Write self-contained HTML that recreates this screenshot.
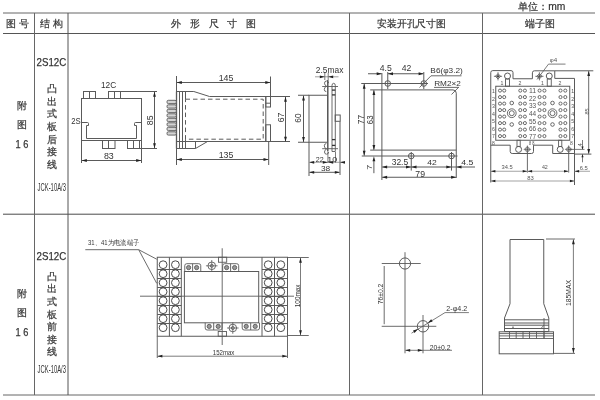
<!DOCTYPE html>
<html><head><meta charset="utf-8"><style>
html,body{margin:0;padding:0;background:#fff;width:600px;height:400px;overflow:hidden}
svg{display:block;font-family:"Liberation Sans",sans-serif;will-change:transform;filter:blur(0.3px)}
</style></head><body>
<svg width="600" height="400" viewBox="0 0 600 400">
<line x1="3" y1="13" x2="595" y2="13" stroke="#666" stroke-width="1"/>
<line x1="3" y1="33.5" x2="595" y2="33.5" stroke="#555" stroke-width="1"/>
<line x1="3" y1="214.2" x2="595" y2="214.2" stroke="#4a4a4a" stroke-width="1"/>
<line x1="3" y1="395" x2="595" y2="395" stroke="#666" stroke-width="1"/>
<line x1="34.5" y1="13" x2="34.5" y2="395" stroke="#666" stroke-width="1"/>
<line x1="68" y1="13" x2="68" y2="395" stroke="#555" stroke-width="1"/>
<line x1="349.5" y1="13" x2="349.5" y2="395" stroke="#666" stroke-width="1"/>
<line x1="482.5" y1="13" x2="482.5" y2="395" stroke="#666" stroke-width="1"/>
<text x="5.9" y="27" font-size="9.9" text-anchor="start" fill="#333"  stroke="#333" stroke-width="0.2">图</text>
<text x="18.6" y="27" font-size="9.9" text-anchor="start" fill="#333"  stroke="#333" stroke-width="0.2">号</text>
<text x="39.5" y="27" font-size="10.1" text-anchor="start" fill="#333"  stroke="#333" stroke-width="0.2">结</text>
<text x="52.6" y="27" font-size="10.1" text-anchor="start" fill="#333"  stroke="#333" stroke-width="0.2">构</text>
<text x="171.1" y="27" font-size="10.2" text-anchor="start" fill="#333"  stroke="#333" stroke-width="0.2">外</text>
<text x="189.85" y="27" font-size="10.2" text-anchor="start" fill="#333"  stroke="#333" stroke-width="0.2">形</text>
<text x="208.6" y="27" font-size="10.2" text-anchor="start" fill="#333"  stroke="#333" stroke-width="0.2">尺</text>
<text x="227.35" y="27" font-size="10.2" text-anchor="start" fill="#333"  stroke="#333" stroke-width="0.2">寸</text>
<text x="246.1" y="27" font-size="10.2" text-anchor="start" fill="#333"  stroke="#333" stroke-width="0.2">图</text>
<text x="377" y="27" font-size="9.8" text-anchor="start" fill="#333" textLength="69" lengthAdjust="spacingAndGlyphs"  stroke="#333" stroke-width="0.2">安装开孔尺寸图</text>
<text x="524.5" y="27" font-size="10" text-anchor="start" fill="#333" textLength="30" lengthAdjust="spacingAndGlyphs"  stroke="#333" stroke-width="0.2">端子图</text>
<text x="517.8" y="9.9" font-size="10.2" text-anchor="start" fill="#333" textLength="47.5" lengthAdjust="spacingAndGlyphs"  stroke="#333" stroke-width="0.2">单位：mm</text>
<text x="16.5" y="109" font-size="10" text-anchor="start" fill="#333"  stroke="#333" stroke-width="0.2">附</text>
<text x="16.5" y="127.8" font-size="10" text-anchor="start" fill="#333"  stroke="#333" stroke-width="0.2">图</text>
<text x="15.5" y="148" font-size="10.5" text-anchor="start" fill="#333" textLength="12.8" lengthAdjust="spacingAndGlyphs"  stroke="#333" stroke-width="0.25">1&#160;6</text>
<text x="16.5" y="297" font-size="10" text-anchor="start" fill="#333"  stroke="#333" stroke-width="0.2">附</text>
<text x="16.5" y="315.8" font-size="10" text-anchor="start" fill="#333"  stroke="#333" stroke-width="0.2">图</text>
<text x="15.5" y="335.5" font-size="10.5" text-anchor="start" fill="#333" textLength="12.8" lengthAdjust="spacingAndGlyphs"  stroke="#333" stroke-width="0.25">1&#160;6</text>
<text x="36.53" y="66.20" font-size="11.43" fill="#333" textLength="29.72" lengthAdjust="spacingAndGlyphs"  stroke="#333" stroke-width="0.25">2S12C</text>
<text x="46.7" y="91.9" font-size="9.6" text-anchor="start" fill="#333"  stroke="#333" stroke-width="0.2">凸</text>
<text x="46.7" y="104.57000000000001" font-size="9.6" text-anchor="start" fill="#333"  stroke="#333" stroke-width="0.2">出</text>
<text x="46.7" y="117.24000000000001" font-size="9.6" text-anchor="start" fill="#333"  stroke="#333" stroke-width="0.2">式</text>
<text x="46.7" y="129.91" font-size="9.6" text-anchor="start" fill="#333"  stroke="#333" stroke-width="0.2">板</text>
<text x="46.7" y="142.58" font-size="9.6" text-anchor="start" fill="#333"  stroke="#333" stroke-width="0.2">后</text>
<text x="46.7" y="155.25" font-size="9.6" text-anchor="start" fill="#333"  stroke="#333" stroke-width="0.2">接</text>
<text x="46.7" y="167.92000000000002" font-size="9.6" text-anchor="start" fill="#333"  stroke="#333" stroke-width="0.2">线</text>
<text x="37.59" y="190.70" font-size="10.41" fill="#333" textLength="28.38" lengthAdjust="spacingAndGlyphs" >JCK-10A/3</text>
<text x="36.53" y="260.20" font-size="11.43" fill="#333" textLength="29.72" lengthAdjust="spacingAndGlyphs"  stroke="#333" stroke-width="0.25">2S12C</text>
<text x="46.7" y="279.9" font-size="9.6" text-anchor="start" fill="#333"  stroke="#333" stroke-width="0.2">凸</text>
<text x="46.7" y="292.45" font-size="9.6" text-anchor="start" fill="#333"  stroke="#333" stroke-width="0.2">出</text>
<text x="46.7" y="305.0" font-size="9.6" text-anchor="start" fill="#333"  stroke="#333" stroke-width="0.2">式</text>
<text x="46.7" y="317.54999999999995" font-size="9.6" text-anchor="start" fill="#333"  stroke="#333" stroke-width="0.2">板</text>
<text x="46.7" y="330.09999999999997" font-size="9.6" text-anchor="start" fill="#333"  stroke="#333" stroke-width="0.2">前</text>
<text x="46.7" y="342.65" font-size="9.6" text-anchor="start" fill="#333"  stroke="#333" stroke-width="0.2">接</text>
<text x="46.7" y="355.2" font-size="9.6" text-anchor="start" fill="#333"  stroke="#333" stroke-width="0.2">线</text>
<text x="37.59" y="372.50" font-size="10.68" fill="#333" textLength="28.40" lengthAdjust="spacingAndGlyphs" >JCK-10A/3</text>
<rect x="81.5" y="98.5" width="60" height="42" rx="0" stroke="#5a5a5a" stroke-width="1" fill="none"/>
<rect x="83.5" y="91.5" width="12" height="7" rx="0" stroke="#5a5a5a" stroke-width="1" fill="none"/>
<line x1="89.5" y1="91.5" x2="89.5" y2="98.5" stroke="#5a5a5a" stroke-width="1"/>
<rect x="108.5" y="91.5" width="12" height="7" rx="0" stroke="#5a5a5a" stroke-width="1" fill="none"/>
<line x1="114.5" y1="91.5" x2="114.5" y2="98.5" stroke="#5a5a5a" stroke-width="1"/>
<rect x="102.5" y="140.5" width="12.5" height="8" rx="0" stroke="#5a5a5a" stroke-width="1" fill="none"/>
<line x1="108.5" y1="140.5" x2="108.5" y2="148.5" stroke="#5a5a5a" stroke-width="1"/>
<rect x="127.5" y="140.5" width="12" height="8" rx="0" stroke="#5a5a5a" stroke-width="1" fill="none"/>
<line x1="133.5" y1="140.5" x2="133.5" y2="148.5" stroke="#5a5a5a" stroke-width="1"/>
<path d="M81.5,122.5 H87.5 Q88.5,122.5 88.5,123.5 V125.5 H86.5 V138.5 H136.5 V125.5 H134.5 V123.5 Q134.5,122.5 135.5,122.5 H141.5" stroke="#5a5a5a" stroke-width="1" fill="none" />
<text x="100.90" y="88.00" font-size="8.71" fill="#333" textLength="15.29" lengthAdjust="spacingAndGlyphs" >12C</text>
<text x="71.14" y="124.40" font-size="9.29" fill="#333" textLength="9.47" lengthAdjust="spacingAndGlyphs" >2S</text>
<line x1="121" y1="91.5" x2="157" y2="91.5" stroke="#5a5a5a" stroke-width="1"/>
<line x1="140" y1="148.5" x2="157" y2="148.5" stroke="#5a5a5a" stroke-width="1"/>
<line x1="154.5" y1="92" x2="154.5" y2="148" stroke="#5a5a5a" stroke-width="1"/>
<polygon points="154.50,91.80 153.10,96.80 155.90,96.80" fill="#222"/>
<polygon points="154.50,148.20 153.10,143.20 155.90,143.20" fill="#222"/>
<text x="152.90" y="125.18" font-size="9.43" fill="#333" textLength="9.78" lengthAdjust="spacingAndGlyphs" transform="rotate(-90 152.90 125.18)" >85</text>
<line x1="81.5" y1="141" x2="81.5" y2="163" stroke="#5a5a5a" stroke-width="1"/>
<line x1="141.5" y1="141" x2="141.5" y2="163" stroke="#5a5a5a" stroke-width="1"/>
<line x1="82" y1="160.5" x2="141" y2="160.5" stroke="#5a5a5a" stroke-width="1"/>
<polygon points="81.80,160.50 86.80,159.10 86.80,161.90" fill="#222"/>
<polygon points="141.20,160.50 136.20,159.10 136.20,161.90" fill="#222"/>
<text x="103.94" y="159.30" font-size="9.00" fill="#333" textLength="9.84" lengthAdjust="spacingAndGlyphs" >83</text>
<line x1="176.5" y1="76" x2="176.5" y2="165" stroke="#5a5a5a" stroke-width="1"/>
<line x1="177" y1="82.5" x2="270" y2="82.5" stroke="#5a5a5a" stroke-width="1"/>
<polygon points="176.80,82.50 181.80,81.10 181.80,83.90" fill="#222"/>
<polygon points="270.30,82.50 265.30,81.10 265.30,83.90" fill="#222"/>
<text x="218.70" y="81.30" font-size="8.71" fill="#333" textLength="14.73" lengthAdjust="spacingAndGlyphs" >145</text>
<line x1="270.5" y1="76.5" x2="270.5" y2="96.5" stroke="#5a5a5a" stroke-width="1"/>
<path d="M176.5,91.5 H193.8 L209.5,96.5 H290" stroke="#5a5a5a" stroke-width="1" fill="none" />
<line x1="179.5" y1="91.5" x2="179.5" y2="148.5" stroke="#5a5a5a" stroke-width="1"/>
<line x1="182.5" y1="91.5" x2="182.5" y2="148.5" stroke="#5a5a5a" stroke-width="1"/>
<line x1="185.5" y1="91.5" x2="185.5" y2="99.2" stroke="#5a5a5a" stroke-width="1"/>
<line x1="185.5" y1="139.2" x2="185.5" y2="148.5" stroke="#5a5a5a" stroke-width="1"/>
<line x1="176.5" y1="91.5" x2="176.5" y2="148.5" stroke="#5a5a5a" stroke-width="1.3"/>
<path d="M176.5,141.5 H290" stroke="#5a5a5a" stroke-width="1" fill="none" />
<path d="M176.5,148.5 H195.5 L207.5,141.5" stroke="#5a5a5a" stroke-width="1" fill="none" />
<line x1="195.5" y1="141.5" x2="195.5" y2="148.5" stroke="#5a5a5a" stroke-width="1"/>
<rect x="167" y="100.3" width="9.3" height="3.3" rx="1.3" stroke="#5a5a5a" stroke-width="0.9" fill="#d4d4d4"/>
<rect x="167" y="104.8" width="9.3" height="3.3" rx="1.3" stroke="#5a5a5a" stroke-width="0.9" fill="#d4d4d4"/>
<rect x="167" y="109.3" width="9.3" height="3.3" rx="1.3" stroke="#5a5a5a" stroke-width="0.9" fill="#d4d4d4"/>
<rect x="167" y="113.8" width="9.3" height="3.3" rx="1.3" stroke="#5a5a5a" stroke-width="0.9" fill="#d4d4d4"/>
<rect x="167" y="118.3" width="9.3" height="3.3" rx="1.3" stroke="#5a5a5a" stroke-width="0.9" fill="#d4d4d4"/>
<rect x="167" y="122.8" width="9.3" height="3.3" rx="1.3" stroke="#5a5a5a" stroke-width="0.9" fill="#d4d4d4"/>
<rect x="167" y="127.3" width="9.3" height="3.3" rx="1.3" stroke="#5a5a5a" stroke-width="0.9" fill="#d4d4d4"/>
<rect x="167" y="131.8" width="9.3" height="3.3" rx="1.3" stroke="#5a5a5a" stroke-width="0.9" fill="#d4d4d4"/>
<rect x="185.5" y="99.2" width="77.7" height="40" fill="none" stroke="#5a5a5a" stroke-width="1" stroke-dasharray="4.5 3"/>
<line x1="265.8" y1="96.5" x2="265.8" y2="141.5" stroke="#5a5a5a" stroke-width="1"/>
<rect x="265.8" y="96.5" width="4.7" height="10.5" rx="0" stroke="#5a5a5a" stroke-width="1" fill="none"/>
<line x1="265.8" y1="103.2" x2="270.5" y2="103.2" stroke="#5a5a5a" stroke-width="1"/>
<rect x="265.8" y="124.8" width="4.7" height="16.7" rx="0" stroke="#5a5a5a" stroke-width="1" fill="none"/>
<line x1="268.7" y1="142" x2="268.7" y2="165" stroke="#5a5a5a" stroke-width="1"/>
<line x1="177" y1="159.5" x2="268.3" y2="159.5" stroke="#5a5a5a" stroke-width="1"/>
<polygon points="176.80,159.50 181.80,158.10 181.80,160.90" fill="#222"/>
<polygon points="268.50,159.50 263.50,158.10 263.50,160.90" fill="#222"/>
<text x="218.70" y="158.00" font-size="8.71" fill="#333" textLength="14.73" lengthAdjust="spacingAndGlyphs" >135</text>
<line x1="285.5" y1="97" x2="285.5" y2="141.5" stroke="#5a5a5a" stroke-width="1"/>
<polygon points="285.50,96.80 284.10,101.80 286.90,101.80" fill="#222"/>
<polygon points="285.50,141.70 284.10,136.70 286.90,136.70" fill="#222"/>
<text x="283.90" y="122.33" font-size="8.57" fill="#333" textLength="9.68" lengthAdjust="spacingAndGlyphs" transform="rotate(-90 283.90 122.33)" >67</text>
<rect x="309" y="95.25" width="18.5" height="47" rx="0" stroke="#5a5a5a" stroke-width="1" fill="none"/>
<line x1="309" y1="142.25" x2="309" y2="176" stroke="#5a5a5a" stroke-width="1"/>
<line x1="298" y1="95.25" x2="309" y2="95.25" stroke="#5a5a5a" stroke-width="1"/>
<line x1="298" y1="142.25" x2="309" y2="142.25" stroke="#5a5a5a" stroke-width="1"/>
<line x1="303.5" y1="95.6" x2="303.5" y2="142" stroke="#5a5a5a" stroke-width="1"/>
<polygon points="303.50,95.50 302.10,100.50 304.90,100.50" fill="#222"/>
<polygon points="303.50,142.00 302.10,137.00 304.90,137.00" fill="#222"/>
<text x="300.90" y="122.66" font-size="9.14" fill="#333" textLength="9.29" lengthAdjust="spacingAndGlyphs" transform="rotate(-90 300.90 122.66)" >60</text>
<line x1="327.8" y1="80" x2="327.8" y2="151.5" stroke="#5a5a5a" stroke-width="1.5"/>
<path d="M332,151.5 V85.5 Q332,83.3 333.7,83.3 Q335.3,83.3 335.3,85.5 V151.5 Z" stroke="#5a5a5a" stroke-width="0.9" fill="none" />
<line x1="332" y1="90.1" x2="335.3" y2="90.1" stroke="#333" stroke-width="1.3"/>
<line x1="332" y1="94.9" x2="335.3" y2="94.9" stroke="#333" stroke-width="1.3"/>
<line x1="332" y1="139.6" x2="335.3" y2="139.6" stroke="#333" stroke-width="1.3"/>
<line x1="332" y1="145.4" x2="335.3" y2="145.4" stroke="#333" stroke-width="1.3"/>
<path d="M326.5,81.0 q-2,0 -2,2.2 q0,2 2,3 q-2.2,1 -2.2,3.2 q0,2.2 2,2.2" stroke="#5a5a5a" stroke-width="0.9" fill="none" />
<path d="M326.6,81.0 q2,0 2,2.2" stroke="#5a5a5a" stroke-width="0.9" fill="none" />
<line x1="322.2" y1="86.5" x2="338" y2="86.5" stroke="#5a5a5a" stroke-width="0.9"/>
<path d="M326.5,154.2 q-2,0 -2,-2.2 q0,-2 2,-3 q-2.2,-1 -2.2,-3.2 q0,-2.2 2,-2.2" stroke="#5a5a5a" stroke-width="0.9" fill="none" />
<path d="M326.6,154.2 q2,0 2,-2.2" stroke="#5a5a5a" stroke-width="0.9" fill="none" />
<line x1="322.2" y1="148.7" x2="338" y2="148.7" stroke="#5a5a5a" stroke-width="0.9"/>
<line x1="327.9" y1="152" x2="327.9" y2="163" stroke="#5a5a5a" stroke-width="0.8"/>
<line x1="335.5" y1="152" x2="335.5" y2="163" stroke="#5a5a5a" stroke-width="0.8"/>
<rect x="335.2" y="115" width="5" height="6.3" rx="0" stroke="#5a5a5a" stroke-width="1" fill="none"/>
<line x1="340" y1="121.5" x2="340" y2="175" stroke="#5a5a5a" stroke-width="1"/>
<text x="315.85" y="72.80" font-size="9.00" fill="#333" textLength="27.53" lengthAdjust="spacingAndGlyphs" >2.5max</text>
<line x1="315" y1="76.8" x2="338.5" y2="76.8" stroke="#888" stroke-width="0.8"/>
<polygon points="324.80,76.80 319.80,75.40 319.80,78.20" fill="#222"/>
<polygon points="328.20,76.80 333.20,75.40 333.20,78.20" fill="#222"/>
<line x1="324.8" y1="73" x2="324.8" y2="80" stroke="#5a5a5a" stroke-width="0.8"/>
<line x1="328.2" y1="73" x2="328.2" y2="80" stroke="#5a5a5a" stroke-width="0.8"/>
<line x1="309.5" y1="162.3" x2="343" y2="162.3" stroke="#888" stroke-width="0.8"/>
<polygon points="309.20,162.30 314.20,160.90 314.20,163.70" fill="#222"/>
<polygon points="327.80,162.30 322.80,160.90 322.80,163.70" fill="#222"/>
<polygon points="328.20,162.30 333.20,160.90 333.20,163.70" fill="#222"/>
<polygon points="340.00,162.30 345.00,160.90 345.00,163.70" fill="#222"/>
<text x="315.73" y="161.60" font-size="7.43" fill="#333" textLength="7.96" lengthAdjust="spacingAndGlyphs" >22</text>
<text x="327.21" y="161.60" font-size="7.43" fill="#333" textLength="9.91" lengthAdjust="spacingAndGlyphs" >10</text>
<line x1="309.5" y1="172.3" x2="339.5" y2="172.3" stroke="#5a5a5a" stroke-width="1"/>
<polygon points="309.20,172.30 314.20,170.90 314.20,173.70" fill="#222"/>
<polygon points="339.80,172.30 334.80,170.90 334.80,173.70" fill="#222"/>
<text x="320.90" y="171.30" font-size="7.43" fill="#333" textLength="9.31" lengthAdjust="spacingAndGlyphs" >38</text>
<path d="M381.9,73 V180" stroke="#5a5a5a" stroke-width="1" fill="none" />
<path d="M370.2,89.9 H453 Q456.25,89.9 456.25,93.2 V178" stroke="#5a5a5a" stroke-width="1" fill="none" />
<path d="M370.2,150.1 H456.25" stroke="#5a5a5a" stroke-width="1" fill="none" />
<line x1="361.25" y1="83.5" x2="428" y2="83.5" stroke="#5a5a5a" stroke-width="1"/>
<line x1="361.75" y1="156" x2="457.5" y2="156" stroke="#5a5a5a" stroke-width="1"/>
<circle cx="387.75" cy="83.5" r="2.8" stroke="#5a5a5a" stroke-width="1" fill="none"/>
<line x1="387.75" y1="72" x2="387.75" y2="89" stroke="#5a5a5a" stroke-width="1"/>
<circle cx="423.8" cy="83.5" r="2.8" stroke="#5a5a5a" stroke-width="1" fill="none"/>
<line x1="423.8" y1="72" x2="423.8" y2="89" stroke="#5a5a5a" stroke-width="1"/>
<circle cx="411.25" cy="156" r="2.8" stroke="#5a5a5a" stroke-width="1" fill="none"/>
<line x1="411.25" y1="152" x2="411.25" y2="170.6" stroke="#5a5a5a" stroke-width="1"/>
<circle cx="451.5" cy="156" r="2.8" stroke="#5a5a5a" stroke-width="1" fill="none"/>
<line x1="451.5" y1="152" x2="451.5" y2="170.6" stroke="#5a5a5a" stroke-width="1"/>
<line x1="368" y1="73.75" x2="381.6" y2="73.75" stroke="#5a5a5a" stroke-width="1"/>
<polygon points="381.70,73.75 376.70,72.35 376.70,75.15" fill="#222"/>
<line x1="388" y1="73.75" x2="423.5" y2="73.75" stroke="#5a5a5a" stroke-width="1"/>
<polygon points="388.00,73.75 393.00,72.35 393.00,75.15" fill="#222"/>
<polygon points="423.60,73.75 418.60,72.35 418.60,75.15" fill="#222"/>
<text x="379.84" y="70.70" font-size="8.14" fill="#333" textLength="11.99" lengthAdjust="spacingAndGlyphs" >4.5</text>
<text x="401.84" y="70.70" font-size="8.14" fill="#333" textLength="9.59" lengthAdjust="spacingAndGlyphs" >42</text>
<line x1="364.2" y1="84" x2="364.2" y2="155.6" stroke="#5a5a5a" stroke-width="1"/>
<polygon points="364.20,83.70 362.80,88.70 365.60,88.70" fill="#222"/>
<polygon points="364.20,155.80 362.80,150.80 365.60,150.80" fill="#222"/>
<text x="363.85" y="124.18" font-size="8.57" fill="#333" textLength="9.13" lengthAdjust="spacingAndGlyphs" transform="rotate(-90 363.85 124.18)" >77</text>
<line x1="373.9" y1="90.3" x2="373.9" y2="149.7" stroke="#5a5a5a" stroke-width="1"/>
<polygon points="373.90,90.10 372.50,95.10 375.30,95.10" fill="#222"/>
<polygon points="373.90,149.90 372.50,144.90 375.30,144.90" fill="#222"/>
<text x="373.30" y="124.20" font-size="9.00" fill="#333" textLength="8.68" lengthAdjust="spacingAndGlyphs" transform="rotate(-90 373.30 124.20)" >63</text>
<line x1="373.9" y1="160" x2="373.9" y2="173.2" stroke="#5a5a5a" stroke-width="1"/>
<polygon points="373.90,156.30 372.50,161.30 375.30,161.30" fill="#222"/>
<text x="372.40" y="169.69" font-size="7.71" fill="#333" textLength="4.84" lengthAdjust="spacingAndGlyphs" transform="rotate(-90 372.40 169.69)" >7</text>
<line x1="382.2" y1="167" x2="475" y2="167" stroke="#5a5a5a" stroke-width="1"/>
<polygon points="382.10,167.00 387.10,165.60 387.10,168.40" fill="#222"/>
<polygon points="411.00,167.00 406.00,165.60 406.00,168.40" fill="#222"/>
<polygon points="411.50,167.00 416.50,165.60 416.50,168.40" fill="#222"/>
<polygon points="451.30,167.00 446.30,165.60 446.30,168.40" fill="#222"/>
<polygon points="456.50,167.00 461.50,165.60 461.50,168.40" fill="#222"/>
<text x="391.66" y="165.30" font-size="8.57" fill="#333" textLength="16.54" lengthAdjust="spacingAndGlyphs" >32.5</text>
<text x="427.16" y="164.90" font-size="7.14" fill="#333" textLength="9.47" lengthAdjust="spacingAndGlyphs" >42</text>
<text x="461.17" y="164.90" font-size="6.71" fill="#333" textLength="12.10" lengthAdjust="spacingAndGlyphs" >4.5</text>
<line x1="382.2" y1="177.25" x2="456" y2="177.25" stroke="#5a5a5a" stroke-width="1"/>
<polygon points="382.10,177.25 387.10,175.85 387.10,178.65" fill="#222"/>
<polygon points="456.10,177.25 451.10,175.85 451.10,178.65" fill="#222"/>
<text x="415.38" y="176.60" font-size="8.36" fill="#333" textLength="9.66" lengthAdjust="spacingAndGlyphs" >79</text>
<text x="430.39" y="72.90" font-size="7.57" fill="#333" textLength="32.44" lengthAdjust="spacingAndGlyphs" >B6(φ3.2)</text>
<line x1="431" y1="75.8" x2="461.5" y2="75.8" stroke="#5a5a5a" stroke-width="0.9"/>
<line x1="419.5" y1="87.5" x2="431" y2="75.8" stroke="#5a5a5a" stroke-width="0.9"/>
<text x="434.21" y="85.75" font-size="7.36" fill="#333" textLength="26.67" lengthAdjust="spacingAndGlyphs" >RM2×2</text>
<line x1="434" y1="87.4" x2="459" y2="87.4" stroke="#5a5a5a" stroke-width="0.9"/>
<line x1="451.5" y1="94.5" x2="458.5" y2="87.4" stroke="#5a5a5a" stroke-width="0.9"/>
<path d="M490.75,182.5 V72.6 Q490.75,70.6 492.75,70.6 H511 Q513,70.6 513,72.6 V78.75 H532.4 V72.8 Q532.4,70.8 534.4,70.8 H554.75 V78.4 H574.5 V185" stroke="#5a5a5a" stroke-width="1" fill="none" />
<path d="M490.75,145.2 H510.2 V151.5 Q510.2,153.5 512.2,153.5 H531.5 Q533.5,153.5 533.5,151.5 V145.2 H552.7 V153.5 H574.5" stroke="#5a5a5a" stroke-width="1" fill="none" />
<line x1="554.75" y1="70.8" x2="593.3" y2="70.8" stroke="#5a5a5a" stroke-width="1"/>
<rect x="495.75" y="86.25" width="74" height="54" rx="0" stroke="#5a5a5a" stroke-width="1" fill="none"/>
<rect x="505.5" y="79" width="4" height="7.25" rx="0" stroke="#5a5a5a" stroke-width="0.9" fill="none"/>
<circle cx="507.5" cy="76" r="3" stroke="#5a5a5a" stroke-width="1" fill="none"/>
<rect x="547.25" y="79" width="4" height="7.25" rx="0" stroke="#5a5a5a" stroke-width="0.9" fill="none"/>
<circle cx="549.25" cy="76" r="3" stroke="#5a5a5a" stroke-width="1" fill="none"/>
<path d="M495.4,76.3 L498,73.7 L500.6,76.3 L498,78.89999999999999 Z" stroke="#5a5a5a" stroke-width="0.9" fill="none" />
<line x1="493.9" y1="76.3" x2="502.1" y2="76.3" stroke="#5a5a5a" stroke-width="0.8"/>
<line x1="498" y1="72.2" x2="498" y2="80.39999999999999" stroke="#5a5a5a" stroke-width="0.8"/>
<circle cx="498" cy="76.3" r="1.1" stroke="#5a5a5a" stroke-width="0" fill="#444"/>
<path d="M536.8,76.3 L539.4,73.7 L542.0,76.3 L539.4,78.89999999999999 Z" stroke="#5a5a5a" stroke-width="0.9" fill="none" />
<line x1="535.3" y1="76.3" x2="543.5" y2="76.3" stroke="#5a5a5a" stroke-width="0.8"/>
<line x1="539.4" y1="72.2" x2="539.4" y2="80.39999999999999" stroke="#5a5a5a" stroke-width="0.8"/>
<circle cx="539.4" cy="76.3" r="1.1" stroke="#5a5a5a" stroke-width="0" fill="#444"/>
<rect x="517.0" y="140.25" width="3.2" height="6.2" rx="0" stroke="#5a5a5a" stroke-width="0.9" fill="none"/>
<circle cx="518.6" cy="149.4" r="3" stroke="#5a5a5a" stroke-width="1" fill="none"/>
<rect x="558.6" y="140.25" width="3.2" height="6.2" rx="0" stroke="#5a5a5a" stroke-width="0.9" fill="none"/>
<circle cx="560.2" cy="149.4" r="3" stroke="#5a5a5a" stroke-width="1" fill="none"/>
<path d="M524.1,149.4 L527.4,146.1 L530.6999999999999,149.4 L527.4,152.7 Z" stroke="#999" stroke-width="0.6" fill="none" />
<circle cx="527.4" cy="149.4" r="1.9" stroke="#5a5a5a" stroke-width="0.8" fill="none"/>
<circle cx="527.4" cy="149.4" r="0.6" stroke="#5a5a5a" stroke-width="0" fill="#333"/>
<line x1="523.9" y1="149.4" x2="530.9" y2="149.4" stroke="#5a5a5a" stroke-width="0.7"/>
<line x1="527.4" y1="145.6" x2="527.4" y2="172.6" stroke="#5a5a5a" stroke-width="0.9"/>
<path d="M565.4000000000001,149.4 L568.7,146.1 L572.0,149.4 L568.7,152.7 Z" stroke="#999" stroke-width="0.6" fill="none" />
<circle cx="568.7" cy="149.4" r="1.9" stroke="#5a5a5a" stroke-width="0.8" fill="none"/>
<circle cx="568.7" cy="149.4" r="0.6" stroke="#5a5a5a" stroke-width="0" fill="#333"/>
<line x1="565.2" y1="149.4" x2="572.2" y2="149.4" stroke="#5a5a5a" stroke-width="0.7"/>
<line x1="568.7" y1="145.6" x2="568.7" y2="172.6" stroke="#5a5a5a" stroke-width="0.9"/>
<line x1="568.7" y1="149.4" x2="584.5" y2="149.4" stroke="#5a5a5a" stroke-width="0.8"/>
<circle cx="500" cy="90.6" r="1.55" stroke="#5a5a5a" stroke-width="0.9" fill="none"/>
<circle cx="500" cy="97.1" r="1.55" stroke="#5a5a5a" stroke-width="0.9" fill="none"/>
<circle cx="500" cy="103.6" r="1.55" stroke="#5a5a5a" stroke-width="0.9" fill="none"/>
<circle cx="500" cy="110.1" r="1.55" stroke="#5a5a5a" stroke-width="0.9" fill="none"/>
<circle cx="500" cy="116.6" r="1.55" stroke="#5a5a5a" stroke-width="0.9" fill="none"/>
<circle cx="500" cy="123.1" r="1.55" stroke="#5a5a5a" stroke-width="0.9" fill="none"/>
<circle cx="500" cy="129.6" r="1.55" stroke="#5a5a5a" stroke-width="0.9" fill="none"/>
<circle cx="500" cy="136.1" r="1.55" stroke="#5a5a5a" stroke-width="0.9" fill="none"/>
<circle cx="504.2" cy="90.6" r="1.55" stroke="#5a5a5a" stroke-width="0.9" fill="none"/>
<circle cx="504.2" cy="97.1" r="1.55" stroke="#5a5a5a" stroke-width="0.9" fill="none"/>
<circle cx="504.2" cy="103.6" r="1.55" stroke="#5a5a5a" stroke-width="0.9" fill="none"/>
<circle cx="504.2" cy="110.1" r="1.55" stroke="#5a5a5a" stroke-width="0.9" fill="none"/>
<circle cx="504.2" cy="116.6" r="1.55" stroke="#5a5a5a" stroke-width="0.9" fill="none"/>
<circle cx="504.2" cy="123.1" r="1.55" stroke="#5a5a5a" stroke-width="0.9" fill="none"/>
<circle cx="504.2" cy="129.6" r="1.55" stroke="#5a5a5a" stroke-width="0.9" fill="none"/>
<circle cx="504.2" cy="136.1" r="1.55" stroke="#5a5a5a" stroke-width="0.9" fill="none"/>
<circle cx="520.3" cy="90.6" r="1.55" stroke="#5a5a5a" stroke-width="0.9" fill="none"/>
<circle cx="520.3" cy="97.1" r="1.55" stroke="#5a5a5a" stroke-width="0.9" fill="none"/>
<circle cx="520.3" cy="103.6" r="1.55" stroke="#5a5a5a" stroke-width="0.9" fill="none"/>
<circle cx="520.3" cy="110.1" r="1.55" stroke="#5a5a5a" stroke-width="0.9" fill="none"/>
<circle cx="520.3" cy="116.6" r="1.55" stroke="#5a5a5a" stroke-width="0.9" fill="none"/>
<circle cx="520.3" cy="123.1" r="1.55" stroke="#5a5a5a" stroke-width="0.9" fill="none"/>
<circle cx="520.3" cy="129.6" r="1.55" stroke="#5a5a5a" stroke-width="0.9" fill="none"/>
<circle cx="520.3" cy="136.1" r="1.55" stroke="#5a5a5a" stroke-width="0.9" fill="none"/>
<circle cx="524.9" cy="90.6" r="1.55" stroke="#5a5a5a" stroke-width="0.9" fill="none"/>
<circle cx="524.9" cy="97.1" r="1.55" stroke="#5a5a5a" stroke-width="0.9" fill="none"/>
<circle cx="524.9" cy="103.6" r="1.55" stroke="#5a5a5a" stroke-width="0.9" fill="none"/>
<circle cx="524.9" cy="110.1" r="1.55" stroke="#5a5a5a" stroke-width="0.9" fill="none"/>
<circle cx="524.9" cy="116.6" r="1.55" stroke="#5a5a5a" stroke-width="0.9" fill="none"/>
<circle cx="524.9" cy="123.1" r="1.55" stroke="#5a5a5a" stroke-width="0.9" fill="none"/>
<circle cx="524.9" cy="129.6" r="1.55" stroke="#5a5a5a" stroke-width="0.9" fill="none"/>
<circle cx="524.9" cy="136.1" r="1.55" stroke="#5a5a5a" stroke-width="0.9" fill="none"/>
<circle cx="539.6" cy="90.6" r="1.55" stroke="#5a5a5a" stroke-width="0.9" fill="none"/>
<circle cx="539.6" cy="97.1" r="1.55" stroke="#5a5a5a" stroke-width="0.9" fill="none"/>
<circle cx="539.6" cy="103.6" r="1.55" stroke="#5a5a5a" stroke-width="0.9" fill="none"/>
<circle cx="539.6" cy="110.1" r="1.55" stroke="#5a5a5a" stroke-width="0.9" fill="none"/>
<circle cx="539.6" cy="116.6" r="1.55" stroke="#5a5a5a" stroke-width="0.9" fill="none"/>
<circle cx="539.6" cy="123.1" r="1.55" stroke="#5a5a5a" stroke-width="0.9" fill="none"/>
<circle cx="539.6" cy="129.6" r="1.55" stroke="#5a5a5a" stroke-width="0.9" fill="none"/>
<circle cx="539.6" cy="136.1" r="1.55" stroke="#5a5a5a" stroke-width="0.9" fill="none"/>
<circle cx="544.4" cy="90.6" r="1.55" stroke="#5a5a5a" stroke-width="0.9" fill="none"/>
<circle cx="544.4" cy="97.1" r="1.55" stroke="#5a5a5a" stroke-width="0.9" fill="none"/>
<circle cx="544.4" cy="103.6" r="1.55" stroke="#5a5a5a" stroke-width="0.9" fill="none"/>
<circle cx="544.4" cy="110.1" r="1.55" stroke="#5a5a5a" stroke-width="0.9" fill="none"/>
<circle cx="544.4" cy="116.6" r="1.55" stroke="#5a5a5a" stroke-width="0.9" fill="none"/>
<circle cx="544.4" cy="123.1" r="1.55" stroke="#5a5a5a" stroke-width="0.9" fill="none"/>
<circle cx="544.4" cy="129.6" r="1.55" stroke="#5a5a5a" stroke-width="0.9" fill="none"/>
<circle cx="544.4" cy="136.1" r="1.55" stroke="#5a5a5a" stroke-width="0.9" fill="none"/>
<circle cx="560.5" cy="90.6" r="1.55" stroke="#5a5a5a" stroke-width="0.9" fill="none"/>
<circle cx="560.5" cy="97.1" r="1.55" stroke="#5a5a5a" stroke-width="0.9" fill="none"/>
<circle cx="560.5" cy="103.6" r="1.55" stroke="#5a5a5a" stroke-width="0.9" fill="none"/>
<circle cx="560.5" cy="110.1" r="1.55" stroke="#5a5a5a" stroke-width="0.9" fill="none"/>
<circle cx="560.5" cy="116.6" r="1.55" stroke="#5a5a5a" stroke-width="0.9" fill="none"/>
<circle cx="560.5" cy="123.1" r="1.55" stroke="#5a5a5a" stroke-width="0.9" fill="none"/>
<circle cx="560.5" cy="129.6" r="1.55" stroke="#5a5a5a" stroke-width="0.9" fill="none"/>
<circle cx="560.5" cy="136.1" r="1.55" stroke="#5a5a5a" stroke-width="0.9" fill="none"/>
<circle cx="565.3" cy="90.6" r="1.55" stroke="#5a5a5a" stroke-width="0.9" fill="none"/>
<circle cx="565.3" cy="97.1" r="1.55" stroke="#5a5a5a" stroke-width="0.9" fill="none"/>
<circle cx="565.3" cy="103.6" r="1.55" stroke="#5a5a5a" stroke-width="0.9" fill="none"/>
<circle cx="565.3" cy="110.1" r="1.55" stroke="#5a5a5a" stroke-width="0.9" fill="none"/>
<circle cx="565.3" cy="116.6" r="1.55" stroke="#5a5a5a" stroke-width="0.9" fill="none"/>
<circle cx="565.3" cy="123.1" r="1.55" stroke="#5a5a5a" stroke-width="0.9" fill="none"/>
<circle cx="565.3" cy="129.6" r="1.55" stroke="#5a5a5a" stroke-width="0.9" fill="none"/>
<circle cx="565.3" cy="136.1" r="1.55" stroke="#5a5a5a" stroke-width="0.9" fill="none"/>
<circle cx="511.75" cy="113.2" r="4.4" stroke="#5a5a5a" stroke-width="0.9" fill="none"/>
<circle cx="511.75" cy="113.2" r="2.5" stroke="#5a5a5a" stroke-width="0.9" fill="none"/>
<circle cx="511.75" cy="103.0" r="1.8" stroke="#5a5a5a" stroke-width="0.9" fill="none"/>
<circle cx="511.75" cy="124.5" r="1.8" stroke="#5a5a5a" stroke-width="0.9" fill="none"/>
<circle cx="552.5" cy="113.2" r="4.4" stroke="#5a5a5a" stroke-width="0.9" fill="none"/>
<circle cx="552.5" cy="113.2" r="2.5" stroke="#5a5a5a" stroke-width="0.9" fill="none"/>
<circle cx="552.5" cy="103.0" r="1.8" stroke="#5a5a5a" stroke-width="0.9" fill="none"/>
<circle cx="552.5" cy="124.5" r="1.8" stroke="#5a5a5a" stroke-width="0.9" fill="none"/>
<text x="492" y="93.0" font-size="5.2" text-anchor="start" fill="#555" >1</text>
<text x="571.3" y="93.0" font-size="5.2" text-anchor="start" fill="#555" >1</text>
<text x="529" y="93.3" font-size="6.3" text-anchor="start" fill="#555" textLength="7.2" lengthAdjust="spacingAndGlyphs" >11</text>
<text x="492" y="100.55" font-size="5.2" text-anchor="start" fill="#555" >2</text>
<text x="571.3" y="100.55" font-size="5.2" text-anchor="start" fill="#555" >2</text>
<text x="529" y="100.85" font-size="6.3" text-anchor="start" fill="#555" textLength="7.2" lengthAdjust="spacingAndGlyphs" >22</text>
<text x="492" y="108.1" font-size="5.2" text-anchor="start" fill="#555" >3</text>
<text x="571.3" y="108.1" font-size="5.2" text-anchor="start" fill="#555" >3</text>
<text x="529" y="108.39999999999999" font-size="6.3" text-anchor="start" fill="#555" textLength="7.2" lengthAdjust="spacingAndGlyphs" >33</text>
<text x="492" y="115.65" font-size="5.2" text-anchor="start" fill="#555" >4</text>
<text x="571.3" y="115.65" font-size="5.2" text-anchor="start" fill="#555" >4</text>
<text x="529" y="115.95" font-size="6.3" text-anchor="start" fill="#555" textLength="7.2" lengthAdjust="spacingAndGlyphs" >44</text>
<text x="492" y="123.2" font-size="5.2" text-anchor="start" fill="#555" >5</text>
<text x="571.3" y="123.2" font-size="5.2" text-anchor="start" fill="#555" >5</text>
<text x="529" y="123.5" font-size="6.3" text-anchor="start" fill="#555" textLength="7.2" lengthAdjust="spacingAndGlyphs" >55</text>
<text x="492" y="130.75" font-size="5.2" text-anchor="start" fill="#555" >6</text>
<text x="571.3" y="130.75" font-size="5.2" text-anchor="start" fill="#555" >6</text>
<text x="529" y="131.05" font-size="6.3" text-anchor="start" fill="#555" textLength="7.2" lengthAdjust="spacingAndGlyphs" >66</text>
<text x="492" y="138.3" font-size="5.2" text-anchor="start" fill="#555" >7</text>
<text x="571.3" y="138.3" font-size="5.2" text-anchor="start" fill="#555" >7</text>
<text x="529" y="138.60000000000002" font-size="6.3" text-anchor="start" fill="#555" textLength="7.2" lengthAdjust="spacingAndGlyphs" >77</text>
<text x="500.5" y="84.8" font-size="5.2" text-anchor="start" fill="#555" >1</text>
<text x="518.5" y="84.8" font-size="5.2" text-anchor="start" fill="#555" >2</text>
<text x="541" y="84.8" font-size="5.2" text-anchor="start" fill="#555" >1</text>
<text x="558.5" y="84.8" font-size="5.2" text-anchor="start" fill="#555" >2</text>
<text x="492" y="144.5" font-size="5" text-anchor="start" fill="#555" >8</text>
<text x="529" y="144.5" font-size="5" text-anchor="start" fill="#555" textLength="5.5" lengthAdjust="spacingAndGlyphs" >8&#160;8</text>
<text x="570" y="144.5" font-size="5" text-anchor="start" fill="#555" >8</text>
<line x1="588.7" y1="71.2" x2="588.7" y2="153.7" stroke="#5a5a5a" stroke-width="0.9"/>
<polygon points="588.70,71.00 587.30,76.00 590.10,76.00" fill="#222"/>
<polygon points="588.70,153.90 587.30,148.90 590.10,148.90" fill="#222"/>
<line x1="574.5" y1="154.1" x2="591.4" y2="154.1" stroke="#5a5a5a" stroke-width="1"/>
<text x="588.90" y="114.54" font-size="6.00" fill="#555" textLength="6.19" lengthAdjust="spacingAndGlyphs" transform="rotate(-90 588.90 114.54)" >85</text>
<line x1="537" y1="79.5" x2="548.5" y2="64.1" stroke="#5a5a5a" stroke-width="0.8"/>
<line x1="548.5" y1="64.1" x2="565.5" y2="64.1" stroke="#5a5a5a" stroke-width="0.8"/>
<text x="549.87" y="62.40" font-size="5.71" fill="#555" textLength="7.43" lengthAdjust="spacingAndGlyphs" >φ4</text>
<line x1="582.5" y1="140" x2="582.5" y2="149.2" stroke="#5a5a5a" stroke-width="0.8"/>
<polygon points="582.50,149.40 581.40,146.40 583.60,146.40" fill="#222"/>
<line x1="582.5" y1="154.3" x2="582.5" y2="162.3" stroke="#5a5a5a" stroke-width="0.8"/>
<polygon points="582.50,154.20 581.40,157.20 583.60,157.20" fill="#222"/>
<text x="582" y="146.5" font-size="6" text-anchor="start" fill="#555" transform="rotate(-90 582 146.5)" >4</text>
<line x1="491" y1="171.25" x2="568.5" y2="171.25" stroke="#999" stroke-width="0.9"/>
<polygon points="490.90,171.25 495.40,169.95 495.40,172.55" fill="#222"/>
<polygon points="527.20,171.25 522.70,169.95 522.70,172.55" fill="#222"/>
<polygon points="527.60,171.25 532.10,169.95 532.10,172.55" fill="#222"/>
<polygon points="568.50,171.25 564.00,169.95 564.00,172.55" fill="#222"/>
<line x1="574.5" y1="171.25" x2="590" y2="171.25" stroke="#999" stroke-width="0.9"/>
<polygon points="574.60,171.25 579.10,169.95 579.10,172.55" fill="#222"/>
<text x="501.56" y="168.60" font-size="6.00" fill="#555" textLength="11.22" lengthAdjust="spacingAndGlyphs" >34.5</text>
<text x="541.88" y="168.60" font-size="6.00" fill="#555" textLength="5.93" lengthAdjust="spacingAndGlyphs" >42</text>
<text x="579.70" y="169.60" font-size="6.00" fill="#555" textLength="8.14" lengthAdjust="spacingAndGlyphs" >6.5</text>
<line x1="491" y1="181" x2="574.3" y2="181" stroke="#999" stroke-width="0.9"/>
<polygon points="490.90,181.00 495.40,179.70 495.40,182.30" fill="#222"/>
<polygon points="574.40,181.00 569.90,179.70 569.90,182.30" fill="#222"/>
<text x="527.27" y="180.00" font-size="5.71" fill="#555" textLength="6.47" lengthAdjust="spacingAndGlyphs" >83</text>
<text x="88" y="245.4" font-size="6.6" text-anchor="start" fill="#333" textLength="51.2" lengthAdjust="spacingAndGlyphs" >31、41为电流端子</text>
<line x1="85.3" y1="249.7" x2="138.7" y2="249.7" stroke="#5a5a5a" stroke-width="0.9"/>
<line x1="138.7" y1="249.7" x2="156.7" y2="259.2" stroke="#5a5a5a" stroke-width="0.9"/>
<line x1="138.7" y1="249.7" x2="156.7" y2="283.3" stroke="#5a5a5a" stroke-width="0.9"/>
<rect x="157.25" y="257.25" width="130.25" height="79" rx="0" stroke="#5a5a5a" stroke-width="1" fill="none"/>
<line x1="169.4" y1="257.25" x2="169.4" y2="336.25" stroke="#5a5a5a" stroke-width="1"/>
<line x1="181.3" y1="257.25" x2="181.3" y2="336.25" stroke="#5a5a5a" stroke-width="1"/>
<line x1="262" y1="257.25" x2="262" y2="336.25" stroke="#5a5a5a" stroke-width="1"/>
<line x1="274.5" y1="257.25" x2="274.5" y2="336.25" stroke="#5a5a5a" stroke-width="1"/>
<line x1="157.25" y1="269.5" x2="181.3" y2="269.5" stroke="#5a5a5a" stroke-width="1"/>
<line x1="262" y1="269.5" x2="287.5" y2="269.5" stroke="#5a5a5a" stroke-width="1"/>
<line x1="157.25" y1="278.5" x2="181.3" y2="278.5" stroke="#5a5a5a" stroke-width="1"/>
<line x1="262" y1="278.5" x2="287.5" y2="278.5" stroke="#5a5a5a" stroke-width="1"/>
<line x1="157.25" y1="287.5" x2="181.3" y2="287.5" stroke="#5a5a5a" stroke-width="1"/>
<line x1="262" y1="287.5" x2="287.5" y2="287.5" stroke="#5a5a5a" stroke-width="1"/>
<line x1="157.25" y1="296.5" x2="181.3" y2="296.5" stroke="#5a5a5a" stroke-width="1"/>
<line x1="262" y1="296.5" x2="287.5" y2="296.5" stroke="#5a5a5a" stroke-width="1"/>
<line x1="157.25" y1="305.5" x2="181.3" y2="305.5" stroke="#5a5a5a" stroke-width="1"/>
<line x1="262" y1="305.5" x2="287.5" y2="305.5" stroke="#5a5a5a" stroke-width="1"/>
<line x1="157.25" y1="314.5" x2="181.3" y2="314.5" stroke="#5a5a5a" stroke-width="1"/>
<line x1="262" y1="314.5" x2="287.5" y2="314.5" stroke="#5a5a5a" stroke-width="1"/>
<line x1="157.25" y1="323.5" x2="181.3" y2="323.5" stroke="#5a5a5a" stroke-width="1"/>
<line x1="262" y1="323.5" x2="287.5" y2="323.5" stroke="#5a5a5a" stroke-width="1"/>
<circle cx="163.1" cy="264.7" r="3.9" stroke="#4a4a4a" stroke-width="1.0" fill="none"/>
<circle cx="163.1" cy="273.7" r="3.9" stroke="#4a4a4a" stroke-width="1.0" fill="none"/>
<circle cx="163.1" cy="282.7" r="3.9" stroke="#4a4a4a" stroke-width="1.0" fill="none"/>
<circle cx="163.1" cy="291.7" r="3.9" stroke="#4a4a4a" stroke-width="1.0" fill="none"/>
<circle cx="163.1" cy="300.7" r="3.9" stroke="#4a4a4a" stroke-width="1.0" fill="none"/>
<circle cx="163.1" cy="309.7" r="3.9" stroke="#4a4a4a" stroke-width="1.0" fill="none"/>
<circle cx="163.1" cy="318.7" r="3.9" stroke="#4a4a4a" stroke-width="1.0" fill="none"/>
<circle cx="163.1" cy="327.7" r="3.9" stroke="#4a4a4a" stroke-width="1.0" fill="none"/>
<circle cx="175.4" cy="264.7" r="3.9" stroke="#4a4a4a" stroke-width="1.0" fill="none"/>
<circle cx="175.4" cy="273.7" r="3.9" stroke="#4a4a4a" stroke-width="1.0" fill="none"/>
<circle cx="175.4" cy="282.7" r="3.9" stroke="#4a4a4a" stroke-width="1.0" fill="none"/>
<circle cx="175.4" cy="291.7" r="3.9" stroke="#4a4a4a" stroke-width="1.0" fill="none"/>
<circle cx="175.4" cy="300.7" r="3.9" stroke="#4a4a4a" stroke-width="1.0" fill="none"/>
<circle cx="175.4" cy="309.7" r="3.9" stroke="#4a4a4a" stroke-width="1.0" fill="none"/>
<circle cx="175.4" cy="318.7" r="3.9" stroke="#4a4a4a" stroke-width="1.0" fill="none"/>
<circle cx="175.4" cy="327.7" r="3.9" stroke="#4a4a4a" stroke-width="1.0" fill="none"/>
<circle cx="268.2" cy="264.7" r="3.9" stroke="#4a4a4a" stroke-width="1.0" fill="none"/>
<circle cx="268.2" cy="273.7" r="3.9" stroke="#4a4a4a" stroke-width="1.0" fill="none"/>
<circle cx="268.2" cy="282.7" r="3.9" stroke="#4a4a4a" stroke-width="1.0" fill="none"/>
<circle cx="268.2" cy="291.7" r="3.9" stroke="#4a4a4a" stroke-width="1.0" fill="none"/>
<circle cx="268.2" cy="300.7" r="3.9" stroke="#4a4a4a" stroke-width="1.0" fill="none"/>
<circle cx="268.2" cy="309.7" r="3.9" stroke="#4a4a4a" stroke-width="1.0" fill="none"/>
<circle cx="268.2" cy="318.7" r="3.9" stroke="#4a4a4a" stroke-width="1.0" fill="none"/>
<circle cx="268.2" cy="327.7" r="3.9" stroke="#4a4a4a" stroke-width="1.0" fill="none"/>
<circle cx="280.8" cy="264.7" r="3.9" stroke="#4a4a4a" stroke-width="1.0" fill="none"/>
<circle cx="280.8" cy="273.7" r="3.9" stroke="#4a4a4a" stroke-width="1.0" fill="none"/>
<circle cx="280.8" cy="282.7" r="3.9" stroke="#4a4a4a" stroke-width="1.0" fill="none"/>
<circle cx="280.8" cy="291.7" r="3.9" stroke="#4a4a4a" stroke-width="1.0" fill="none"/>
<circle cx="280.8" cy="300.7" r="3.9" stroke="#4a4a4a" stroke-width="1.0" fill="none"/>
<circle cx="280.8" cy="309.7" r="3.9" stroke="#4a4a4a" stroke-width="1.0" fill="none"/>
<circle cx="280.8" cy="318.7" r="3.9" stroke="#4a4a4a" stroke-width="1.0" fill="none"/>
<circle cx="280.8" cy="327.7" r="3.9" stroke="#4a4a4a" stroke-width="1.0" fill="none"/>
<rect x="184.4" y="271.5" width="74.3" height="51.3" rx="0" stroke="#5a5a5a" stroke-width="1" fill="none"/>
<path d="M184.75,271.5 V265.7 Q184.75,263.7 186.75,263.7 H198.75 Q200.75,263.7 200.75,265.7 V271.5" stroke="#5a5a5a" stroke-width="0.9" fill="none" />
<line x1="192.6" y1="263.7" x2="192.6" y2="271.5" stroke="#5a5a5a" stroke-width="0.9"/>
<circle cx="188.6" cy="267.6" r="2.1" stroke="#5a5a5a" stroke-width="0.9" fill="#999"/>
<circle cx="196.6" cy="267.6" r="2.1" stroke="#5a5a5a" stroke-width="0.9" fill="#999"/>
<path d="M222.7,271.5 V265.7 Q222.7,263.7 224.7,263.7 H236.7 Q238.7,263.7 238.7,265.7 V271.5" stroke="#5a5a5a" stroke-width="0.9" fill="none" />
<line x1="230.6" y1="263.7" x2="230.6" y2="271.5" stroke="#5a5a5a" stroke-width="0.9"/>
<circle cx="226.6" cy="267.6" r="2.1" stroke="#5a5a5a" stroke-width="0.9" fill="#999"/>
<circle cx="234.6" cy="267.6" r="2.1" stroke="#5a5a5a" stroke-width="0.9" fill="#999"/>
<path d="M205.2,322.8 V328.0 Q205.2,330.0 207.2,330.0 H220.0 Q222.0,330.0 222.0,328.0 V322.8" stroke="#5a5a5a" stroke-width="0.9" fill="none" />
<line x1="213.7" y1="322.8" x2="213.7" y2="330.0" stroke="#5a5a5a" stroke-width="0.9"/>
<circle cx="209.2" cy="326.4" r="2.1" stroke="#5a5a5a" stroke-width="0.9" fill="#999"/>
<circle cx="218.2" cy="326.4" r="2.1" stroke="#5a5a5a" stroke-width="0.9" fill="#999"/>
<path d="M242.2,322.8 V328.0 Q242.2,330.0 244.2,330.0 H257.5 Q259.5,330.0 259.5,328.0 V322.8" stroke="#5a5a5a" stroke-width="0.9" fill="none" />
<line x1="250.7" y1="322.8" x2="250.7" y2="330.0" stroke="#5a5a5a" stroke-width="0.9"/>
<circle cx="246.2" cy="326.4" r="2.1" stroke="#5a5a5a" stroke-width="0.9" fill="#999"/>
<circle cx="255.2" cy="326.4" r="2.1" stroke="#5a5a5a" stroke-width="0.9" fill="#999"/>
<circle cx="211.75" cy="265.8" r="3.8" stroke="#5a5a5a" stroke-width="0.9" fill="none"/>
<circle cx="211.75" cy="265.8" r="1.5" stroke="#5a5a5a" stroke-width="0.9" fill="none"/>
<line x1="205.95" y1="265.8" x2="217.55" y2="265.8" stroke="#5a5a5a" stroke-width="0.8"/>
<line x1="211.75" y1="260.0" x2="211.75" y2="271.6" stroke="#5a5a5a" stroke-width="0.8"/>
<circle cx="232.8" cy="328" r="3.8" stroke="#5a5a5a" stroke-width="0.9" fill="none"/>
<circle cx="232.8" cy="328" r="1.5" stroke="#5a5a5a" stroke-width="0.9" fill="none"/>
<line x1="227.0" y1="328" x2="238.60000000000002" y2="328" stroke="#5a5a5a" stroke-width="0.8"/>
<line x1="232.8" y1="322.2" x2="232.8" y2="333.8" stroke="#5a5a5a" stroke-width="0.8"/>
<rect x="218.5" y="257.25" width="8.2" height="5" rx="0" stroke="#5a5a5a" stroke-width="0.9" fill="none"/>
<rect x="218.2" y="331.5" width="8.3" height="4.75" rx="0" stroke="#5a5a5a" stroke-width="0.9" fill="none"/>
<line x1="222.2" y1="248.25" x2="222.2" y2="345" stroke="#5a5a5a" stroke-width="0.9"/>
<line x1="140" y1="296.2" x2="294" y2="296.2" stroke="#5a5a5a" stroke-width="0.9"/>
<line x1="287.5" y1="257.5" x2="308.75" y2="257.5" stroke="#5a5a5a" stroke-width="0.9"/>
<line x1="287.5" y1="335.5" x2="308.75" y2="335.5" stroke="#5a5a5a" stroke-width="0.9"/>
<line x1="300.5" y1="258" x2="300.5" y2="335" stroke="#5a5a5a" stroke-width="0.8"/>
<polygon points="300.50,257.80 299.10,262.80 301.90,262.80" fill="#222"/>
<polygon points="300.50,335.20 299.10,330.20 301.90,330.20" fill="#222"/>
<text x="300.20" y="307.17" font-size="7.14" fill="#333" textLength="22.70" lengthAdjust="spacingAndGlyphs" transform="rotate(-90 300.20 307.17)" >100max</text>
<line x1="157.25" y1="336.25" x2="157.25" y2="358" stroke="#5a5a5a" stroke-width="0.9"/>
<line x1="287.5" y1="336.25" x2="287.5" y2="358" stroke="#5a5a5a" stroke-width="0.9"/>
<line x1="157.6" y1="356.2" x2="287" y2="356.2" stroke="#5a5a5a" stroke-width="0.8"/>
<polygon points="157.40,356.20 162.40,354.80 162.40,357.60" fill="#222"/>
<polygon points="287.30,356.20 282.30,354.80 282.30,357.60" fill="#222"/>
<text x="212.76" y="354.70" font-size="6.71" fill="#333" textLength="21.66" lengthAdjust="spacingAndGlyphs" >152max</text>
<circle cx="405" cy="263.5" r="5.6" stroke="#5a5a5a" stroke-width="1" fill="none"/>
<line x1="381.75" y1="263.5" x2="420.7" y2="263.5" stroke="#5a5a5a" stroke-width="0.9"/>
<line x1="405" y1="252.2" x2="405" y2="353.3" stroke="#5a5a5a" stroke-width="0.9"/>
<circle cx="423" cy="326.3" r="5.7" stroke="#5a5a5a" stroke-width="1" fill="none"/>
<line x1="381.7" y1="326.3" x2="436.3" y2="326.3" stroke="#5a5a5a" stroke-width="0.9"/>
<line x1="423" y1="315" x2="423" y2="353.3" stroke="#5a5a5a" stroke-width="0.9"/>
<line x1="384.2" y1="266" x2="384.2" y2="324.2" stroke="#5a5a5a" stroke-width="0.9"/>
<text x="382.80" y="304.37" font-size="7.43" fill="#333" textLength="20.75" lengthAdjust="spacingAndGlyphs" transform="rotate(-90 382.80 304.37)" >76±0.2</text>
<line x1="411.5" y1="333.2" x2="445" y2="312.6" stroke="#5a5a5a" stroke-width="0.8"/>
<line x1="445" y1="312.6" x2="468.9" y2="312.6" stroke="#5a5a5a" stroke-width="0.8"/>
<polygon points="418.00,329.06 414.50,332.90 413.02,330.52" fill="#222"/>
<polygon points="427.67,323.00 431.17,319.16 432.65,321.54" fill="#222"/>
<text x="446.34" y="310.80" font-size="7.14" fill="#333" textLength="20.80" lengthAdjust="spacingAndGlyphs" >2-φ4.2</text>
<line x1="405.5" y1="350.3" x2="452" y2="350.3" stroke="#5a5a5a" stroke-width="0.8"/>
<polygon points="405.20,350.30 410.20,348.90 410.20,351.70" fill="#222"/>
<polygon points="422.80,350.30 417.80,348.90 417.80,351.70" fill="#222"/>
<text x="429.63" y="350.20" font-size="7.43" fill="#333" textLength="20.85" lengthAdjust="spacingAndGlyphs" >20±0.2</text>
<path d="M504.5,331.5 V318 L510,303.75 V239.5 H543.75 V303.75 L548.8,318 V331.5" stroke="#5a5a5a" stroke-width="1" fill="none" />
<line x1="504.5" y1="331.5" x2="548.8" y2="331.5" stroke="#5a5a5a" stroke-width="1"/>
<line x1="504.5" y1="319.8" x2="548.8" y2="319.8" stroke="#5a5a5a" stroke-width="1.0"/>
<line x1="504.5" y1="323" x2="548.8" y2="323" stroke="#5a5a5a" stroke-width="1.0"/>
<line x1="504.5" y1="325.2" x2="548.8" y2="325.2" stroke="#5a5a5a" stroke-width="1.0"/>
<line x1="504.5" y1="328.5" x2="548.8" y2="328.5" stroke="#5a5a5a" stroke-width="1.0"/>
<rect x="499.2" y="331.8" width="54.3" height="22" rx="0" stroke="#5a5a5a" stroke-width="1" fill="none"/>
<line x1="499.2" y1="333.6" x2="553.5" y2="333.6" stroke="#5a5a5a" stroke-width="0.9"/>
<line x1="499.2" y1="335.9" x2="553.5" y2="335.9" stroke="#5a5a5a" stroke-width="0.9"/>
<line x1="499.2" y1="338.5" x2="553.5" y2="338.5" stroke="#5a5a5a" stroke-width="0.9"/>
<line x1="509.5" y1="331.8" x2="509.5" y2="338.5" stroke="#5a5a5a" stroke-width="0.9"/>
<line x1="516.2" y1="331.8" x2="516.2" y2="338.5" stroke="#5a5a5a" stroke-width="0.9"/>
<line x1="523" y1="331.8" x2="523" y2="338.5" stroke="#5a5a5a" stroke-width="0.9"/>
<line x1="529.5" y1="331.8" x2="529.5" y2="338.5" stroke="#5a5a5a" stroke-width="0.9"/>
<line x1="536.5" y1="331.8" x2="536.5" y2="338.5" stroke="#5a5a5a" stroke-width="0.9"/>
<line x1="544" y1="331.8" x2="544" y2="338.5" stroke="#5a5a5a" stroke-width="0.9"/>
<line x1="544" y1="318" x2="544" y2="338.5" stroke="#5a5a5a" stroke-width="0.9"/>
<line x1="541" y1="328.5" x2="544" y2="325" stroke="#5a5a5a" stroke-width="0.8"/>
<line x1="513" y1="326.5" x2="513" y2="328.5" stroke="#5a5a5a" stroke-width="1.2"/>
<line x1="546" y1="239" x2="575" y2="239" stroke="#5a5a5a" stroke-width="0.9"/>
<line x1="554" y1="353.4" x2="575" y2="353.4" stroke="#5a5a5a" stroke-width="0.9"/>
<line x1="573.4" y1="239.5" x2="573.4" y2="353" stroke="#5a5a5a" stroke-width="0.8"/>
<polygon points="573.40,239.30 572.00,244.30 574.80,244.30" fill="#222"/>
<polygon points="573.40,353.10 572.00,348.10 574.80,348.10" fill="#222"/>
<text x="571.40" y="305.99" font-size="7.43" fill="#333" textLength="25.98" lengthAdjust="spacingAndGlyphs" transform="rotate(-90 571.40 305.99)" >185MAX</text>
</svg></body></html>
